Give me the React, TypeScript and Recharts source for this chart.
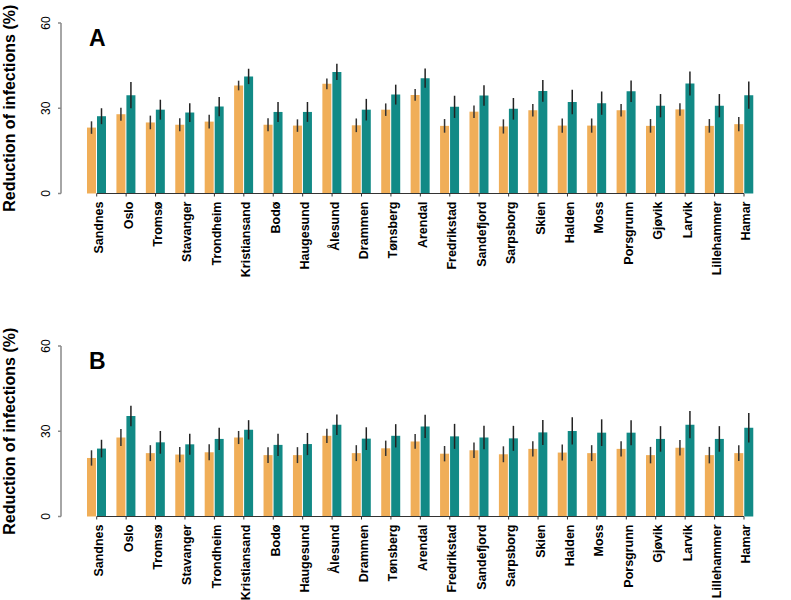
import { Bar, BarChart, ErrorBar, ReferenceLine, XAxis, YAxis } from "recharts";

const cities = [
  "Sandnes", "Oslo", "Tromsø", "Stavanger", "Trondheim", "Kristiansand", "Bodø",
  "Haugesund", "Ålesund", "Drammen", "Tønsberg", "Arendal", "Fredrikstad",
  "Sandefjord", "Sarpsborg", "Skien", "Halden", "Moss", "Porsgrunn", "Gjøvik",
  "Larvik", "Lillehammer", "Hamar",
];

// panel A
const aOrange = [23.2, 27.9, 25.0, 24.2, 25.3, 38.0, 24.2, 23.9, 38.6, 24.0, 29.5, 34.7, 23.8, 28.8, 23.6, 29.3, 23.9, 23.9, 29.3, 23.8, 29.6, 23.8, 24.4];
const aTeal = [27.2, 34.6, 29.5, 28.5, 30.6, 41.2, 28.7, 28.7, 42.8, 29.5, 34.8, 40.6, 30.5, 34.5, 29.8, 36.1, 32.2, 31.8, 36.0, 30.9, 38.7, 30.9, 34.6];
const aOrangeErr = [2.2, 2.3, 2.4, 2.3, 2.4, 1.7, 2.3, 2.2, 1.9, 2.4, 2.2, 2.1, 2.4, 2.2, 2.5, 2.2, 2.5, 2.5, 2.2, 2.4, 2.2, 2.4, 2.5];
const aTealErr = [2.8, 4.6, 3.5, 3.3, 3.4, 2.7, 3.5, 3.5, 2.9, 3.8, 3.5, 3.4, 3.9, 3.6, 3.8, 3.8, 4.3, 4.1, 3.8, 4.1, 4.2, 4.1, 4.8];

// panel B
const bOrange = [20.6, 27.8, 22.3, 21.8, 22.6, 27.8, 21.6, 21.6, 28.4, 22.3, 24.0, 26.4, 22.1, 23.3, 21.9, 23.8, 22.5, 22.3, 23.8, 21.6, 24.2, 21.6, 22.3];
const bTeal = [23.9, 35.4, 26.1, 25.4, 27.3, 30.5, 25.2, 25.5, 32.3, 27.4, 28.4, 31.7, 28.2, 27.8, 27.5, 29.6, 30.1, 29.5, 29.5, 27.3, 32.3, 27.3, 31.2];
const bOrangeErr = [2.7, 3.0, 2.8, 2.7, 2.8, 2.3, 2.8, 2.8, 2.5, 2.8, 2.7, 2.6, 2.7, 2.7, 2.8, 2.7, 2.8, 2.8, 2.7, 2.9, 2.7, 2.9, 2.8];
const bTealErr = [3.1, 3.6, 4.0, 3.7, 3.9, 3.4, 3.9, 3.9, 3.6, 4.0, 4.1, 4.1, 4.4, 4.1, 4.4, 4.4, 4.8, 4.7, 4.4, 4.5, 4.8, 4.5, 5.2];

const yTicks = [0, 30, 60];

const ORANGE = "#F0AE58";
const TEAL = "#128A86";
const FONT = "'Liberation Sans', Arial, sans-serif";

function rows(o: number[], t: number[], oe: number[], te: number[]) {
  return cities.map((city, i) => ({ city, o: o[i], t: t[i], oErr: oe[i], tErr: te[i] }));
}

const XTick = (props: any) => {
  const { x, y, payload } = props;
  return (
    <text
      x={x}
      y={y}
      dy={6.5}
      transform={`rotate(-90, ${x}, ${y})`}
      textAnchor="end"
      fontFamily={FONT}
      fontWeight="bold"
      fontSize={12.5}
      fill="#000"
    >
      {payload.value}
    </text>
  );
};

const YTick = (props: any) => {
  const { y, payload } = props;
  const x = 50;
  return (
    <text
      x={x}
      y={y}
      transform={`rotate(-90, ${x}, ${y})`}
      textAnchor="middle"
      fontFamily={FONT}
      fontSize={12}
      fill="#000"
    >
      {payload.value}
    </text>
  );
};

function Panel({ data, letter, top }: { data: any[]; letter: string; top: number }) {
  const plotTop = 23;
  const plotH = 170.5;
  const midY = plotTop + plotH / 2;
  return (
    <div style={{ position: "absolute", left: 0, top, width: 791, height: 300 }}>
      <BarChart
        width={791}
        height={300}
        data={data}
        margin={{ top: plotTop, right: 10, bottom: 0, left: 0 }}
        barSize={9}
        barGap={1}
      >
        <XAxis
          dataKey="city"
          interval={0}
          height={106.5}
          axisLine={false}
          tickLine={{ stroke: "#333", strokeWidth: 1 }}
          tickSize={3}
          tickMargin={5}
          padding={{ left: 21, right: 22.3 }}
          tick={<XTick />}
        />
        <YAxis
          width={61}
          domain={[0, 60]}
          ticks={yTicks}
          axisLine={{ stroke: "#888", strokeWidth: 1.5 }}
          tickLine={{ stroke: "#888", strokeWidth: 1.5 }}
          tickSize={3}
          tick={<YTick />}
          label={{
            content: () => (
              <g>
                <text
                  x={15}
                  y={midY}
                  transform={`rotate(-90, 15, ${midY})`}
                  textAnchor="middle"
                  fontFamily={FONT}
                  fontWeight="bold"
                  fontSize={16}
                  fill="#000"
                >
                  Reduction of infections (%)
                </text>
                <text x={89} y={46} fontFamily={FONT} fontWeight="bold" fontSize={23} fill="#000">
                  {letter}
                </text>
              </g>
            ),
          }}
        />
        <ReferenceLine
          segment={[
            { x: cities[0], y: 0 },
            { x: cities[cities.length - 1], y: 0 },
          ]}
          stroke="#333"
          strokeWidth={1.2}
        />
        <Bar dataKey="o" fill={ORANGE} isAnimationActive={false}>
          <ErrorBar dataKey="oErr" width={0} stroke="#333" strokeWidth={1.5} />
        </Bar>
        <Bar dataKey="t" fill={TEAL} isAnimationActive={false}>
          <ErrorBar dataKey="tErr" width={0} stroke="#222" strokeWidth={1.5} />
        </Bar>
      </BarChart>
    </div>
  );
}

export default function App() {
  return (
    <div style={{ position: "absolute", left: 0, top: 0, width: 791, height: 600, background: "#fff" }}>
      <Panel data={rows(aOrange, aTeal, aOrangeErr, aTealErr)} letter="A" top={0} />
      <Panel data={rows(bOrange, bTeal, bOrangeErr, bTealErr)} letter="B" top={323} />
    </div>
  );
}
